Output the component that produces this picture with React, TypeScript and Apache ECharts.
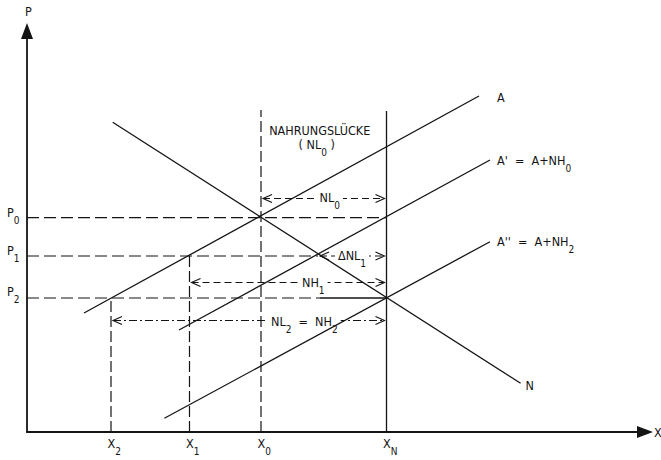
import React, { useEffect, useRef } from "react";
import * as echarts from "echarts";

// ---- axis extents (data units) ----
const X_MAX = 618;
const Y_MAX = 401;

// ---- quantities on the X axis ----
const X2 = 84;
const X1 = 162.5;
const X0 = 234;
const XN = 359.5;

// ---- price levels ----
const P0 = 214.3;
const P1 = 176;
const P2 = 134;

// ---- schedules: [x1, y1, x2, y2] ----
const lineA = [57, 119, 452, 336];
const lineA1 = [152, 102, 463, 272];
const lineA2 = [137.4, 13.7, 463, 190.3];
const lineN = [85.7, 309.7, 493.6, 48.7];

// ---- reference heights / positions ----
const topX0 = 322;
const topXN = 321;
const xCrossA1N = 291; // A' meets N at P1
const xP2Solid = 293; // P2 line turns solid
const yNL0 = 233.5;
const yNH1 = 149.5;
const yNL2 = 111.5;

// solid segments
const solidSegments = [lineA, lineA1, lineA2, lineN, [XN, 0, XN, topXN], [xP2Solid, P2, XN, P2]];
// long-dash horizontals
const horizDashed = [
  [0, P0, XN, P0],
  [0, P1, xCrossA1N, P1],
  [0, P2, xP2Solid, P2],
];
// long-dash verticals
const vertDashed = [
  [X2, 0, X2, P2],
  [X1, 0, X1, P1],
  [X0, 0, X0, topX0],
];
// double arrows: [xStart, xEnd, y]
const dashedArrows = [
  [X0, XN, yNL0],
  [xCrossA1N, XN, P1],
  [X1, XN, yNH1],
];
const dashDotArrows = [[X2, XN, yNL2]];

// ---- labels ----
const labelTexts = [
  "P", "X", "P_0", "P_1", "P_2", "X_2", "X_1", "X_0", "X_N",
  "A", "A'  =  A+NH_0", "A''  =  A+NH_2", "N",
  "NAHRUNGSLÜCKE", "( NL_0 )", "NL_0", "ΔNL_1", "NH_1", "NL_2  =  NH_2",
];
const labelAnchors = [
  [0, Y_MAX], [X_MAX, 0], [0, P0], [0, P1], [0, P2],
  [X2, 0], [X1, 0], [X0, 0], [XN, 0],
  [lineA[2], lineA[3]], [lineA1[2], lineA1[3]], [lineA2[2], lineA2[3]], [lineN[2], lineN[3]],
  [(X0 + XN) / 2, topX0], [(X0 + XN) / 2, topX0], [(X0 + XN) / 2, yNL0],
  [xCrossA1N, P1], [X0, yNH1], [X0, yNL2],
];
// pixel offsets and alignment (presentation only)
const labelLayout: { dx: number; dy: number; align: string; bg?: boolean }[] = [
  { dx: 1.5, dy: -19.5, align: "center" },
  { dx: 9, dy: 0, align: "left" },
  { dx: -20, dy: -5, align: "left" },
  { dx: -20, dy: -5.5, align: "left" },
  { dx: -20, dy: -7, align: "left" },
  { dx: -3.5, dy: 11.5, align: "left" },
  { dx: -3.5, dy: 11.5, align: "left" },
  { dx: -3.5, dy: 11.5, align: "left" },
  { dx: -3.5, dy: 11.5, align: "left" },
  { dx: 18, dy: 1, align: "left" },
  { dx: 7, dy: 0, align: "left" },
  { dx: 7, dy: 0, align: "left" },
  { dx: 5, dy: 2, align: "left" },
  { dx: -4, dy: 20, align: "center" },
  { dx: -7, dy: 34, align: "center" },
  { dx: 6, dy: -1, align: "center", bg: true },
  { dx: 20, dy: -1, align: "left", bg: true },
  { dx: 41, dy: 0, align: "left", bg: true },
  { dx: 10, dy: 1, align: "left", bg: true },
];

const INK = "#141414";
const FONT = "'DejaVu Sans Condensed', 'Liberation Sans Narrow', 'Roboto Condensed', sans-serif";
const MAIN_SIZE = 12.5;
const SUB_SIZE = 10;
const SUB_DROP = 8;

let measureCtx: CanvasRenderingContext2D | null = null;
function textWidth(t: string, size: number) {
  if (!measureCtx) measureCtx = document.createElement("canvas").getContext("2d");
  measureCtx!.font = `${size}px ${FONT}`;
  return measureCtx!.measureText(t).width;
}

function parse(s: string) {
  const out: { t: string; sub: boolean }[] = [];
  const re = /_(.)/g;
  let last = 0;
  let m: RegExpExecArray | null;
  while ((m = re.exec(s))) {
    if (m.index > last) out.push({ t: s.slice(last, m.index), sub: false });
    out.push({ t: m[1], sub: true });
    last = re.lastIndex;
  }
  if (last < s.length) out.push({ t: s.slice(last), sub: false });
  return out;
}

function segRenderer(lineWidth: number, lineDash: number[] | null) {
  return (params: any, api: any) => {
    const a = api.coord([api.value(0), api.value(1)]);
    const b = api.coord([api.value(2), api.value(3)]);
    return {
      type: "line",
      shape: { x1: a[0], y1: a[1], x2: b[0], y2: b[1] },
      style: { stroke: INK, lineWidth, lineDash: lineDash || undefined, fill: "none" },
    };
  };
}

function arrowRenderer(lineDash: number[]) {
  const HL = 9;
  const HW = 4;
  const INSET = 2;
  return (params: any, api: any) => {
    const a = api.coord([api.value(0), api.value(2)]);
    const b = api.coord([api.value(1), api.value(2)]);
    const ax = a[0] + INSET;
    const bx = b[0] - INSET;
    const y = a[1];
    const st = { stroke: INK, lineWidth: 1.1, fill: "none" };
    return {
      type: "group",
      children: [
        { type: "line", shape: { x1: ax, y1: y, x2: bx, y2: y }, style: { ...st, lineDash } },
        { type: "polyline", shape: { points: [[ax + HL, y - HW], [ax, y], [ax + HL, y + HW]] }, style: st },
        { type: "polyline", shape: { points: [[bx - HL, y - HW], [bx, y], [bx - HL, y + HW]] }, style: st },
      ],
    };
  };
}

function labelRenderer(params: any, api: any) {
  const i = params.dataIndex;
  const L = labelLayout[i];
  const p = api.coord([api.value(0), api.value(1)]);
  const segs = parse(labelTexts[i]);
  const pieces: { t: string; sub: boolean; w: number; space: boolean }[] = [];
  segs.forEach((s) => {
    s.t.split(/( +)/).forEach((part) => {
      if (!part) return;
      const size = s.sub ? SUB_SIZE : MAIN_SIZE;
      pieces.push({ t: part, sub: s.sub, w: textWidth(part, size), space: /^ +$/.test(part) });
    });
  });
  const total = pieces.reduce((acc, q) => acc + q.w, 0);
  let x = p[0] + L.dx - (L.align === "center" ? total / 2 : L.align === "right" ? total : 0);
  const y = p[1] + L.dy;
  const children: any[] = [];
  if (L.bg) {
    children.push({
      type: "rect",
      shape: { x: x - 3, y: y - 7, width: total + 6, height: 14 },
      style: { fill: "#ffffff" },
    });
  }
  pieces.forEach((q) => {
    if (!q.space) {
      children.push({
        type: "text",
        x,
        y: y + (q.sub ? SUB_DROP : 0),
        style: {
          text: q.t,
          fontSize: q.sub ? SUB_SIZE : MAIN_SIZE,
          fontFamily: FONT,
          fill: INK,
          align: "left",
          verticalAlign: "middle",
        },
      });
    }
    x += q.w;
  });
  return { type: "group", children };
}

function segSeries(data: number[][], lineWidth: number, lineDash: number[] | null, z: number) {
  return {
    type: "custom",
    coordinateSystem: "cartesian2d",
    dimensions: ["x1", "y1", "x2", "y2"],
    encode: { x: [0, 2], y: [1, 3] },
    data,
    z,
    clip: false,
    silent: true,
    renderItem: segRenderer(lineWidth, lineDash),
  };
}

function arrowSeries(data: number[][], lineDash: number[], z: number) {
  return {
    type: "custom",
    coordinateSystem: "cartesian2d",
    dimensions: ["xs", "xe", "y"],
    encode: { x: [0, 1], y: 2 },
    data,
    z,
    clip: false,
    silent: true,
    renderItem: arrowRenderer(lineDash),
  };
}

export default function App() {
  const ref = useRef<HTMLDivElement>(null);
  useEffect(() => {
    if (!ref.current) return;
    const chart = echarts.init(ref.current, null, { renderer: "svg" });
    const axisCommon = {
      type: "value",
      min: 0,
      axisLine: {
        show: true,
        onZero: false,
        symbol: ["none", "triangle"],
        symbolSize: [12, 16],
        lineStyle: { color: INK, width: 1.8 },
      },
      axisTick: { show: false },
      axisLabel: { show: false },
      splitLine: { show: false },
    };
    chart.setOption({
      animation: false,
      backgroundColor: "#ffffff",
      grid: { left: 27, right: 16, top: 31, bottom: 28 },
      xAxis: { ...axisCommon, max: X_MAX },
      yAxis: { ...axisCommon, max: Y_MAX },
      series: [
        segSeries(horizDashed, 1.2, [12, 5], 2),
        segSeries(vertDashed, 1.2, [11, 4], 2),
        arrowSeries(dashedArrows, [7, 4], 2),
        arrowSeries(dashDotArrows, [8, 3, 2, 3], 2),
        {
          type: "custom",
          coordinateSystem: "cartesian2d",
          data: labelAnchors,
          z: 3,
          clip: false,
          silent: true,
          renderItem: labelRenderer,
        },
        segSeries(solidSegments, 1.3, null, 4),
      ],
    });
    return () => chart.dispose();
  }, []);
  return (
    <div
      ref={ref}
      style={{ position: "fixed", left: 0, top: 0, width: 661, height: 460, background: "#fff" }}
    />
  );
}
